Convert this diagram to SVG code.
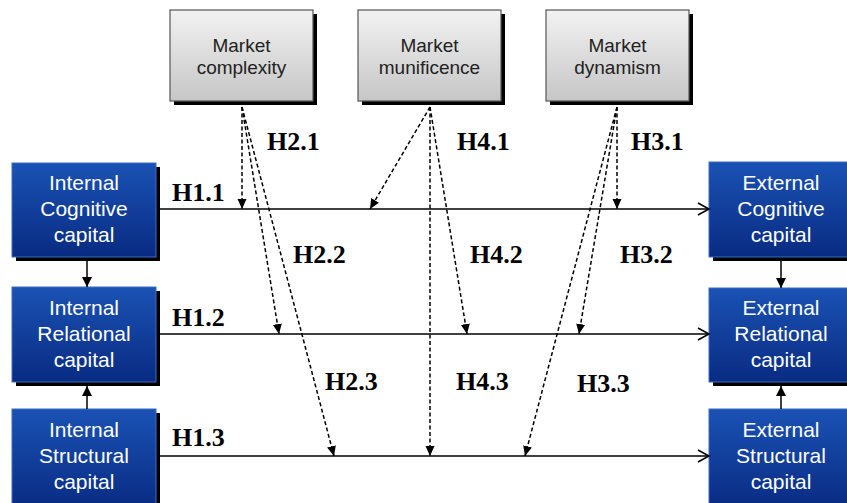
<svg xmlns="http://www.w3.org/2000/svg" width="847" height="503" viewBox="0 0 847 503">
  <defs>
    <linearGradient id="gBlue" x1="0" y1="0" x2="0" y2="1">
      <stop offset="0" stop-color="#1a52b4"/>
      <stop offset="1" stop-color="#092b82"/>
    </linearGradient>
    <linearGradient id="gGray" x1="0" y1="0" x2="0" y2="1">
      <stop offset="0" stop-color="#f2f2f2"/>
      <stop offset="1" stop-color="#c6c6c6"/>
    </linearGradient>
    <marker id="open" markerWidth="14" markerHeight="14" refX="12" refY="7" orient="auto" markerUnits="userSpaceOnUse">
      <path d="M1,1 L12,7 L1,13" fill="none" stroke="#000" stroke-width="1.5"/>
    </marker>
    <marker id="solid" markerWidth="12" markerHeight="12" refX="10" refY="6" orient="auto" markerUnits="userSpaceOnUse">
      <path d="M0,1 L10,6 L0,11 Z" fill="#000"/>
    </marker>
    <marker id="dash" markerWidth="12" markerHeight="10" refX="10" refY="5" orient="auto" markerUnits="userSpaceOnUse">
      <path d="M0,0.5 L10,5 L0,9.5 Z" fill="#000"/>
    </marker>
  </defs>
  <style>
    .shadow { fill: #000; }
    .blue { fill: url(#gBlue); stroke: #3a6cc8; stroke-width: 1; }
    .gray { fill: url(#gGray); stroke: #555; stroke-width: 1.2; }
    .bt { font-family: "Liberation Sans", Arial, sans-serif; font-size: 21px; fill: #fff; text-anchor: middle; }
    .gt { font-family: "Liberation Sans", Arial, sans-serif; font-size: 19px; fill: #222; text-anchor: middle; }
    .h { font-family: "Liberation Serif", "Times New Roman", serif; font-size: 26px; font-weight: bold; fill: #000; }
    .link { stroke: #000; stroke-width: 1.5; fill: none; }
    .dl { stroke: #000; stroke-width: 1.5; fill: none; stroke-dasharray: 4 2.5; }
  </style>

  <!-- Moderators -->
  <g id="market-complexity">
    <rect class="shadow" x="174" y="14" width="143" height="91"/>
    <rect class="gray" x="170" y="10" width="143" height="91"/>
    <text class="gt" x="241.5" y="52">Market</text>
    <text class="gt" x="241.5" y="74">complexity</text>
  </g>
  <g id="market-munificence">
    <rect class="shadow" x="362" y="14" width="143" height="91"/>
    <rect class="gray" x="358" y="10" width="143" height="91"/>
    <text class="gt" x="429.5" y="52">Market</text>
    <text class="gt" x="429.5" y="74">munificence</text>
  </g>
  <g id="market-dynamism">
    <rect class="shadow" x="550" y="14" width="143" height="91"/>
    <rect class="gray" x="546" y="10" width="143" height="91"/>
    <text class="gt" x="617.5" y="52">Market</text>
    <text class="gt" x="617.5" y="74">dynamism</text>
  </g>

  <!-- Internal capital -->
  <g id="internal-cognitive">
    <rect class="shadow" x="16" y="167" width="144" height="94"/>
    <rect class="blue" x="12" y="163" width="144" height="94"/>
    <text class="bt" x="84" y="190">Internal</text>
    <text class="bt" x="84" y="216">Cognitive</text>
    <text class="bt" x="84" y="242">capital</text>
  </g>
  <g id="internal-relational">
    <rect class="shadow" x="16" y="291" width="144" height="95"/>
    <rect class="blue" x="12" y="287" width="144" height="95"/>
    <text class="bt" x="84" y="315">Internal</text>
    <text class="bt" x="84" y="341">Relational</text>
    <text class="bt" x="84" y="367">capital</text>
  </g>
  <g id="internal-structural">
    <rect class="shadow" x="16" y="413" width="144" height="100"/>
    <rect class="blue" x="12" y="409" width="144" height="100"/>
    <text class="bt" x="84" y="437">Internal</text>
    <text class="bt" x="84" y="463">Structural</text>
    <text class="bt" x="84" y="489">capital</text>
  </g>

  <!-- External capital -->
  <g id="external-cognitive">
    <rect class="shadow" x="713" y="166" width="140" height="95"/>
    <rect class="blue" x="709" y="162" width="140" height="95"/>
    <text class="bt" x="781" y="190">External</text>
    <text class="bt" x="781" y="216">Cognitive</text>
    <text class="bt" x="781" y="242">capital</text>
  </g>
  <g id="external-relational">
    <rect class="shadow" x="713" y="292" width="140" height="94"/>
    <rect class="blue" x="709" y="288" width="140" height="94"/>
    <text class="bt" x="781" y="315">External</text>
    <text class="bt" x="781" y="341">Relational</text>
    <text class="bt" x="781" y="367">capital</text>
  </g>
  <g id="external-structural">
    <rect class="shadow" x="713" y="413" width="140" height="100"/>
    <rect class="blue" x="709" y="409" width="140" height="100"/>
    <text class="bt" x="781" y="437">External</text>
    <text class="bt" x="781" y="463">Structural</text>
    <text class="bt" x="781" y="489">capital</text>
  </g>

  <!-- Connectors -->
  <g id="connectors">
    <line class="link" x1="160" y1="209" x2="709" y2="209" marker-end="url(#open)"/>
    <line class="link" x1="160" y1="334" x2="709" y2="334" marker-end="url(#open)"/>
    <line class="link" x1="160" y1="456" x2="709" y2="456" marker-end="url(#open)"/>

    <line class="link" x1="87" y1="261" x2="87" y2="287" marker-end="url(#solid)"/>
    <line class="link" x1="87" y1="409" x2="87" y2="386" marker-end="url(#solid)"/>
    <line class="link" x1="781" y1="261" x2="781" y2="288" marker-end="url(#solid)"/>
    <line class="link" x1="781" y1="409" x2="781" y2="386" marker-end="url(#solid)"/>

    <line class="dl" x1="242" y1="107" x2="242" y2="209" marker-end="url(#dash)"/>
    <line class="dl" x1="242" y1="107" x2="279" y2="334" marker-end="url(#dash)"/>
    <line class="dl" x1="242" y1="107" x2="334" y2="456" marker-end="url(#dash)"/>

    <line class="dl" x1="430" y1="107" x2="370" y2="209" marker-end="url(#dash)"/>
    <line class="dl" x1="430" y1="107" x2="467" y2="334" marker-end="url(#dash)"/>
    <line class="dl" x1="430" y1="107" x2="430" y2="456" marker-end="url(#dash)"/>

    <line class="dl" x1="617" y1="107" x2="617" y2="209" marker-end="url(#dash)"/>
    <line class="dl" x1="617" y1="107" x2="579" y2="334" marker-end="url(#dash)"/>
    <line class="dl" x1="617" y1="107" x2="525" y2="456" marker-end="url(#dash)"/>
  </g>

  <!-- Hypothesis labels -->
  <g id="labels">
    <text class="h" x="172" y="201">H1.1</text>
    <text class="h" x="172" y="326">H1.2</text>
    <text class="h" x="172" y="446">H1.3</text>
    <text class="h" x="267" y="150">H2.1</text>
    <text class="h" x="293" y="263">H2.2</text>
    <text class="h" x="325" y="390">H2.3</text>
    <text class="h" x="457" y="150">H4.1</text>
    <text class="h" x="470" y="263">H4.2</text>
    <text class="h" x="456" y="390">H4.3</text>
    <text class="h" x="631" y="150">H3.1</text>
    <text class="h" x="620" y="263">H3.2</text>
    <text class="h" x="577" y="392">H3.3</text>
  </g>
</svg>
